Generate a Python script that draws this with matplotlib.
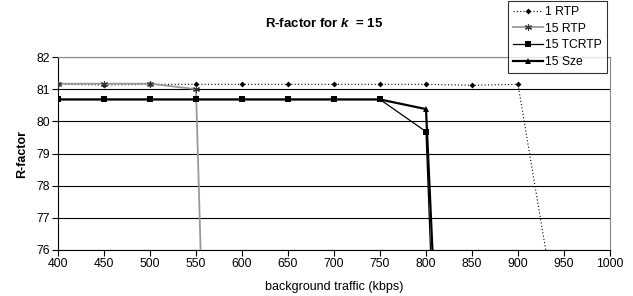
import matplotlib
matplotlib.use("Agg")
import matplotlib.pyplot as plt

plt.rcParams['font.family'] = ['Liberation Sans', 'DejaVu Sans']
plt.rcParams['mathtext.fontset'] = 'custom'
plt.rcParams['mathtext.it'] = 'Liberation Sans:bold:italic'
plt.rcParams['mathtext.rm'] = 'Liberation Sans:bold'

traffic = [400, 450, 500, 550, 600, 650, 700, 750, 800, 850, 900, 950]
rtp1_x = [400, 450, 500, 550, 600, 650, 700, 750, 800, 850, 900, 950]
rtp1_y = [81.15, 81.13, 81.15, 81.15, 81.15, 81.15, 81.15, 81.15, 81.15, 81.12, 81.15, 72.6]
rtp15_x = [400, 450, 500, 550, 600]
rtp15_y = [81.17, 81.17, 81.17, 81.0, 31.0]
tcrtp_x = [400, 450, 500, 550, 600, 650, 700, 750, 800, 850]
tcrtp_y = [80.68, 80.68, 80.68, 80.68, 80.68, 80.68, 80.68, 80.68, 79.68, 42.0]
sze_x = [400, 450, 500, 550, 600, 650, 700, 750, 800, 850]
sze_y = [80.68, 80.68, 80.68, 80.68, 80.68, 80.68, 80.68, 80.68, 80.38, 49.0]
xticks = [400, 450, 500, 550, 600, 650, 700, 750, 800, 850, 900, 950, 1000]
yticks = [76, 77, 78, 79, 80, 81, 82]

fig = plt.figure(figsize=(6.33, 2.96), dpi=100)
ax = fig.add_axes([58/633, 46/296, 552/633, 193/296])

ax.plot(rtp1_x, rtp1_y, color='black', linestyle=(0, (1, 2)), linewidth=0.8,
        marker='D', markersize=3, markeredgewidth=0, label='1 RTP', zorder=3)
ax.plot(rtp15_x, rtp15_y, color='#999999', linestyle='-', linewidth=1.3,
        marker=(6, 2, 0), markersize=5, markeredgecolor='#333333', markeredgewidth=0.8,
        label='15 RTP', zorder=4)
ax.plot(tcrtp_x, tcrtp_y, color='black', linestyle='-', linewidth=0.9,
        marker='s', markersize=4, markeredgewidth=0, label='15 TCRTP', zorder=5)
ax.plot(sze_x, sze_y, color='black', linestyle='-', linewidth=1.6,
        marker='^', markersize=4, markeredgewidth=0, label='15 Sze', zorder=5)

ax.set_xlim(400, 1000)
ax.set_ylim(76, 82)
ax.set_xticks(xticks)
ax.set_yticks(yticks)
ax.tick_params(axis='both', labelsize=8.7, direction='out', length=4, width=0.8, pad=2)
ax.yaxis.grid(True, color='black', linewidth=0.8)
ax.set_axisbelow(True)
for s in ['top', 'right']:
    ax.spines[s].set_color('#888888')
    ax.spines[s].set_linewidth(0.8)
for s in ['left', 'bottom']:
    ax.spines[s].set_color('black')
    ax.spines[s].set_linewidth(0.8)

ax.set_xlabel('background traffic (kbps)', fontsize=9, labelpad=8)
ax.set_ylabel('R-factor', fontsize=9, fontweight='bold', labelpad=6)
fig.text(0.512, 0.919, r'R-factor for $k$  = 15', ha='center', va='center',
         fontsize=9.5, fontweight='bold')

leg = ax.legend(loc='upper left', bbox_to_anchor=(508/633, 295/296),
                bbox_transform=fig.transFigure, fontsize=8.7, frameon=True,
                fancybox=False, edgecolor='black', handlelength=2.5,
                handletextpad=0.2, borderpad=0.4, labelspacing=0.4,
                borderaxespad=0)
leg.get_frame().set_linewidth(0.8)

fig.savefig('out.png', dpi=100)
